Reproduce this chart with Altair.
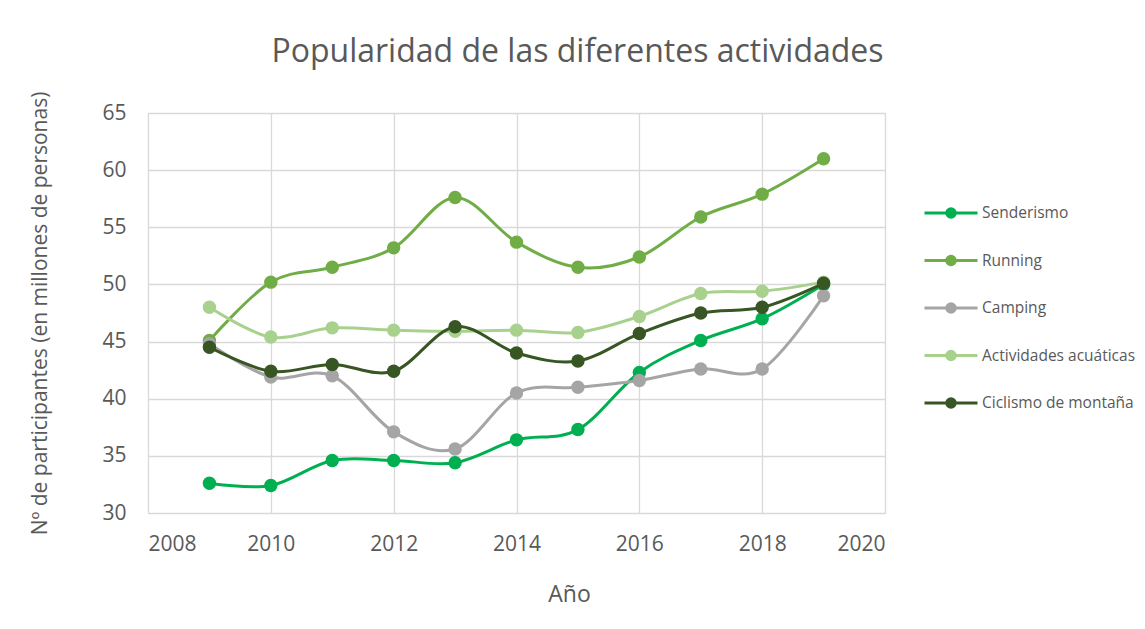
import altair as alt
import pandas as pd

years = [2009, 2010, 2011, 2012, 2013, 2014, 2015, 2016, 2017, 2018, 2019]
series_names = ["Senderismo", "Running", "Camping", "Actividades acuáticas", "Ciclismo de montaña"]
senderismo = [32.6, 32.4, 34.6, 34.6, 34.4, 36.4, 37.3, 42.3, 45.1, 47.0, 50.0]
running = [45.1, 50.2, 51.5, 53.2, 57.6, 53.7, 51.5, 52.4, 55.9, 57.9, 61.0]
camping = [44.8, 41.9, 42.0, 37.1, 35.6, 40.5, 41.0, 41.6, 42.6, 42.6, 49.0]
acuaticas = [48.0, 45.4, 46.2, 46.0, 45.9, 46.0, 45.8, 47.2, 49.2, 49.4, 50.2]
ciclismo = [44.5, 42.4, 43.0, 42.4, 46.3, 44.0, 43.3, 45.7, 47.5, 48.0, 50.1]
colors = ["#00B050", "#70AD47", "#A5A5A5", "#A9D18E", "#375623"]
x_ticks = [2008, 2010, 2012, 2014, 2016, 2018, 2020]
y_ticks = [30, 35, 40, 45, 50, 55, 60, 65]

values = [senderismo, running, camping, acuaticas, ciclismo]
rows = []
for name, vals in zip(series_names, values):
    for yr, v in zip(years, vals):
        rows.append({"Año": yr, "valor": v, "serie": name})
df = pd.DataFrame(rows)

FONT = "Open Sans"
GREY = "#595959"

# legend symbol: line with a solid dot made of concentric rings
ring = lambda r: f"M{r},0A{r},{r},0,1,1,-{r},0A{r},{r},0,1,1,{r},0"
legend_path = "M-1,0H1" + ring(0.16) + ring(0.1) + ring(0.04)

color = alt.Color(
    "serie:N",
    scale=alt.Scale(domain=series_names, range=colors),
    legend=alt.Legend(
        title=None,
        orient="none",
        legendX=775,
        legendY=90,
        symbolType=legend_path,
        symbolSize=2809,
        symbolStrokeWidth=3,
        symbolFillColor="transparent",
        clipHeight=20,
        rowPadding=27.5,
        labelOffset=3,
        labelFont=FONT,
        labelFontSize=15.5,
        labelColor=GREY,
        labelLimit=300,
        padding=0,
    ),
)

x = alt.X(
    "Año:Q",
    scale=alt.Scale(domain=[2008, 2020], nice=False, zero=False),
    axis=alt.Axis(
        values=x_ticks, format="d", ticks=False, domain=False,
        labelPadding=20, labelFontSize=21, labelFont=FONT, labelColor=GREY,
        title="Año", titleFontSize=23, titleFont=FONT, titleColor=GREY,
        titleFontWeight="normal", titlePadding=29, titleX=421, titleAlign="center",
        gridColor="#d9d9d9", gridWidth=1.3,
    ),
)
y = alt.Y(
    "valor:Q",
    scale=alt.Scale(domain=[30, 65], nice=False, zero=False),
    axis=alt.Axis(
        values=y_ticks, ticks=False, domain=False,
        labelPadding=22, labelFontSize=21, labelFont=FONT, labelColor=GREY,
        title="Nº de participantes (en millones de personas)",
        titleFontSize=21, titleFont=FONT, titleColor=GREY,
        titleFontWeight="normal", titlePadding=51,
        gridColor="#d9d9d9", gridWidth=1.3,
    ),
)

base = alt.Chart(df).encode(x=x, y=y, color=color)
layers = []
for name in series_names:
    sub = base.transform_filter(alt.datum.serie == name)
    layers.append(sub.mark_line(interpolate="cardinal", strokeWidth=3))
    layers.append(sub.mark_point(filled=True, size=180, opacity=1))

chart = alt.layer(*layers).properties(
    width=737,
    height=400,
    title=alt.TitleParams(
        "Popularidad de las diferentes actividades",
        font=FONT, fontSize=32, fontWeight="normal", color=GREY,
        anchor="middle", dx=61, offset=22,
    ),
    autosize=alt.AutoSizeParams(type="none"),
    padding={"left": 140, "top": 105, "right": 252, "bottom": 100},
).configure_view(stroke="#d9d9d9", strokeWidth=1.3).configure(background="white")

chart.save("out.html", embed_options={"renderer": "svg", "actions": False})
